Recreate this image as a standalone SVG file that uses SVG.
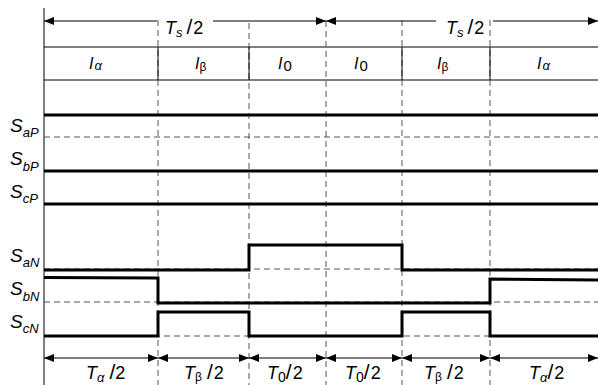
<svg xmlns="http://www.w3.org/2000/svg" width="598" height="385" viewBox="0 0 598 385">
<style>
.thin{stroke:#000;stroke-width:1;fill:none}
.dash{stroke:#555;stroke-width:1;stroke-dasharray:6,4;fill:none}
.sig{stroke:#000;stroke-width:3;fill:none;stroke-linejoin:miter}
.arr{stroke:#000;stroke-width:1;fill:none;marker-start:url(#ah);marker-end:url(#ah)}
.arrS{stroke:#000;stroke-width:1;fill:none;marker-start:url(#ah)}
.arrE{stroke:#000;stroke-width:1;fill:none;marker-end:url(#ah)}
text{font-family:"Liberation Sans",Arial,sans-serif;fill:#000}
.it{font-style:italic}
.lab{font-size:19px}
.row{font-size:16px}
.dim{font-size:18px}
</style>
<defs>
<marker id="ah" viewBox="0 0 10 8" refX="10" refY="4" markerWidth="10" markerHeight="8" markerUnits="userSpaceOnUse" orient="auto-start-reverse">
<path d="M0,0 L10,4 L0,8 z" fill="#000"/>
</marker>
</defs>
<rect width="598" height="385" fill="#fff"/>
<g id="grid">
<line class="thin" x1="44" y1="8" x2="44" y2="385"/>
<line class="thin" x1="44" y1="47" x2="598" y2="47"/>
<line class="thin" x1="44" y1="80" x2="598" y2="80"/>
<line class="dash" x1="158" y1="20" x2="158" y2="385"/>
<line class="dash" x1="249" y1="23" x2="249" y2="385"/>
<line class="dash" x1="326" y1="21" x2="326" y2="385"/>
<line class="dash" x1="402" y1="20" x2="402" y2="385"/>
<line class="dash" x1="490" y1="20" x2="490" y2="385"/>
<line class="thin" x1="158" y1="47" x2="158" y2="80"/>
<line class="thin" x1="249" y1="47" x2="249" y2="80"/>
<line class="thin" x1="402" y1="47" x2="402" y2="80"/>
<line class="thin" x1="490" y1="47" x2="490" y2="80"/>
<line class="dash" x1="44" y1="137" x2="598" y2="137"/>
<line class="dash" x1="44" y1="269" x2="598" y2="269"/>
<line class="dash" x1="44" y1="302" x2="598" y2="302"/>
<line class="dash" x1="44" y1="336" x2="598" y2="336"/>
</g>
<g id="connectors">
<line class="arrS" x1="44" y1="21" x2="157" y2="21"/>
<line class="arrE" x1="213" y1="21" x2="326" y2="21"/>
<line class="arrS" x1="326" y1="21" x2="436" y2="21"/>
<line class="arrE" x1="493" y1="21" x2="598" y2="21"/>
<line class="arr" x1="44" y1="358" x2="158" y2="358"/>
<line class="arr" x1="158" y1="358" x2="249" y2="358"/>
<line class="arr" x1="249" y1="358" x2="326" y2="358"/>
<line class="arr" x1="326" y1="358" x2="402" y2="358"/>
<line class="arr" x1="402" y1="358" x2="490" y2="358"/>
<line class="arr" x1="490" y1="358" x2="598" y2="358"/>
</g>
<g id="signals">
<line class="sig" x1="44" y1="115" x2="598" y2="115"/>
<line class="sig" x1="44" y1="171" x2="598" y2="171"/>
<line class="sig" x1="44" y1="204" x2="598" y2="204"/>
<polyline class="sig" points="44,270 249,270 249,245 402,245 402,270 598,270"/>
<polyline class="sig" points="44,277.5 158,278 158,303 490,303 490,279 598,280"/>
<polyline class="sig" points="44,336 158,336 158,312 249,312 249,336 402,336 402,312 490,312 490,336 598,336"/>
</g>
<g id="labels-left">
<text class="lab" x="10" y="132"><tspan class="it">S</tspan><tspan class="it" font-size="13" dy="5">aP</tspan></text>
<text class="lab" x="10" y="165"><tspan class="it">S</tspan><tspan class="it" font-size="13" dy="6">bP</tspan></text>
<text class="lab" x="10" y="198"><tspan class="it">S</tspan><tspan class="it" font-size="13" dy="5">cP</tspan></text>
<text class="lab" x="10" y="262"><tspan class="it">S</tspan><tspan class="it" font-size="13" dy="5">aN</tspan></text>
<text class="lab" x="10" y="295"><tspan class="it">S</tspan><tspan class="it" font-size="13" dy="6">bN</tspan></text>
<text class="lab" x="10" y="328"><tspan class="it">S</tspan><tspan class="it" font-size="13" dy="5">cN</tspan></text>
</g>
<g id="labels-row">
<text class="row" x="89" y="69"><tspan class="it">I</tspan><tspan class="it" font-size="13" dy="1" dx="1">α</tspan></text>
<text class="row" x="195" y="69"><tspan class="it">I</tspan><tspan font-size="12" dy="2">β</tspan></text>
<text class="row" x="278" y="69"><tspan class="it">I</tspan><tspan font-size="15" dy="2" dx="1">0</tspan></text>
<text class="row" x="354" y="69"><tspan class="it">I</tspan><tspan font-size="15" dy="2" dx="1">0</tspan></text>
<text class="row" x="437" y="69"><tspan class="it">I</tspan><tspan font-size="12" dy="2">β</tspan></text>
<text class="row" x="537" y="69"><tspan class="it">I</tspan><tspan class="it" font-size="13" dy="1" dx="1">α</tspan></text>
</g>
<g id="labels-top">
<text class="dim" x="165" y="34"><tspan class="it">T</tspan><tspan class="it" font-size="13" dy="3">s</tspan><tspan dy="-3" dx="4" font-size="21">/</tspan><tspan dx="1">2</tspan></text>
<text class="dim" x="446" y="34"><tspan class="it">T</tspan><tspan class="it" font-size="13" dy="3">s</tspan><tspan dy="-3" dx="4" font-size="21">/</tspan><tspan dx="1">2</tspan></text>
</g>
<g id="labels-bottom">
<text class="dim" x="86" y="379"><tspan class="it">T</tspan><tspan class="it" font-size="13" dy="3">α</tspan><tspan dy="-3" dx="5" font-size="21">/</tspan><tspan>2</tspan></text>
<text class="dim" x="184" y="379"><tspan class="it">T</tspan><tspan font-size="12" dy="2">β</tspan><tspan dy="-2" dx="5" font-size="21">/</tspan><tspan dx="1">2</tspan></text>
<text class="dim" x="267" y="379"><tspan class="it">T</tspan><tspan font-size="14" dy="3">0</tspan><tspan dy="-3" font-size="21">/</tspan><tspan dx="1">2</tspan></text>
<text class="dim" x="345" y="379"><tspan class="it">T</tspan><tspan font-size="14" dy="3">0</tspan><tspan dy="-3" font-size="21">/</tspan><tspan dx="1">2</tspan></text>
<text class="dim" x="424" y="379"><tspan class="it">T</tspan><tspan font-size="12" dy="2">β</tspan><tspan dy="-2" dx="5" font-size="21">/</tspan><tspan dx="1">2</tspan></text>
<text class="dim" x="529" y="379"><tspan class="it">T</tspan><tspan class="it" font-size="13" dy="3">α</tspan><tspan dy="-3" font-size="21">/</tspan><tspan dx="1">2</tspan></text>
</g>
</svg>
